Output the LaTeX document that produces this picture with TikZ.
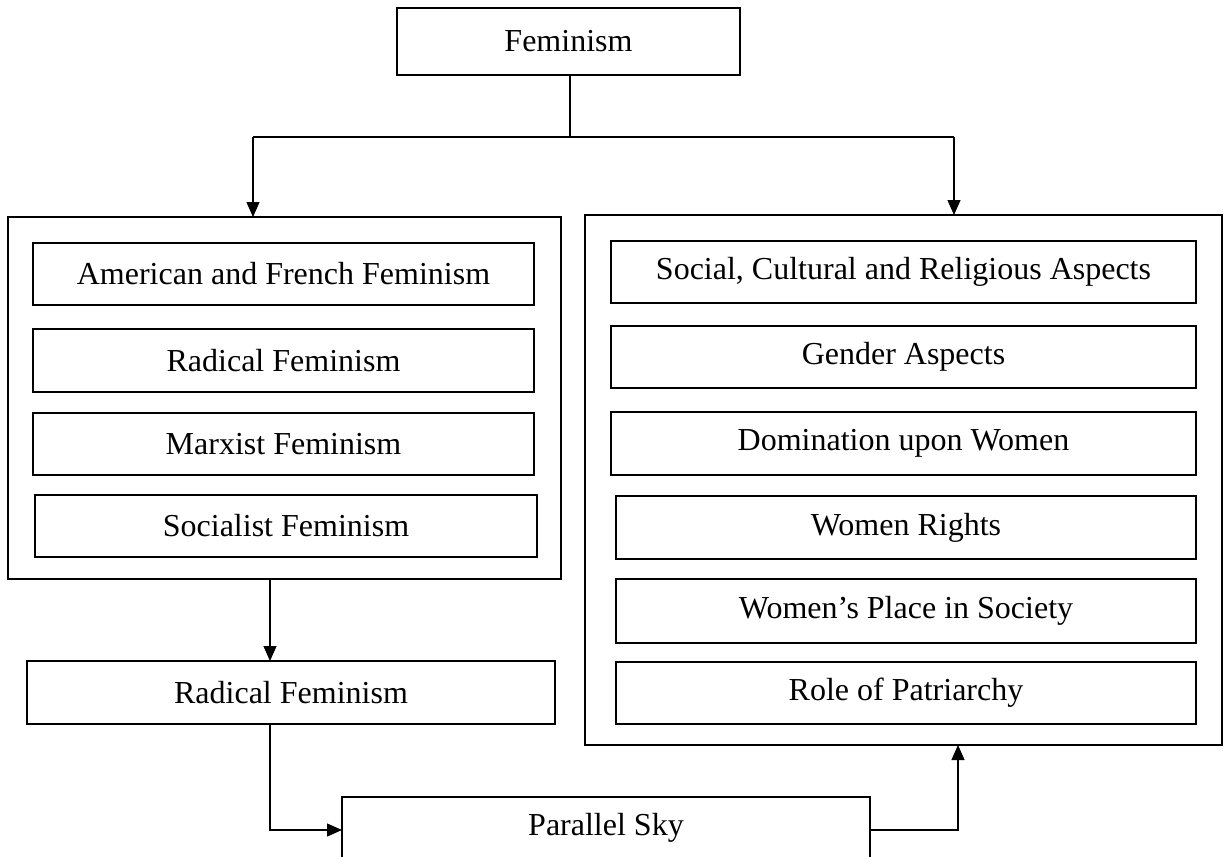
\documentclass[tikz,border=0pt]{standalone}
\usepackage{fontspec}
\setmainfont{Liberation Serif}
\usetikzlibrary{arrows.meta}
\begin{document}
\begin{tikzpicture}[x=1pt,y=-1pt,
  box/.style={draw,line width=2.2pt,inner sep=0pt,outer sep=0pt,font=\fontsize{32}{38}\selectfont},
  frame/.style={draw,line width=1.2pt,inner sep=0pt,outer sep=0pt},
  conn/.style={line width=1.2pt},
  arr/.style={line width=1.2pt,-{Triangle[length=15pt,width=13pt]}}]
\useasboundingbox (0,0) rectangle (1227,857);
% top
\node[box,minimum width=343pt,minimum height=67pt] (fem) at (568.5,41.5) {Feminism};
% outer frames
\node[frame,minimum width=553pt,minimum height=362pt] (lout) at (284.5,398) {};
\node[frame,minimum width=637pt,minimum height=530pt] (rout) at (903.5,480) {};
% left inner
\node[box,minimum width=501pt,minimum height=62pt] (amer) at (283.5,274) {American and French Feminism};
\node[box,minimum width=501pt,minimum height=63pt] (rad1) at (283.5,360.5) {Radical Feminism};
\node[box,minimum width=501pt,minimum height=62pt] (marx) at (283.5,444) {Marxist Feminism};
\node[box,minimum width=502pt,minimum height=62pt] (soc) at (286,526) {Socialist Feminism};
% right inner
\node[box,minimum width=585pt,minimum height=62pt] (scr) at (903.5,272) {Social, Cultural and Religious Aspects};
\node[box,minimum width=585pt,minimum height=62pt] (gen) at (903.5,357) {Gender Aspects};
\node[box,minimum width=585pt,minimum height=63pt] (dom) at (903.5,443.5) {Domination upon Women};
\node[box,minimum width=580pt,minimum height=63pt] (rig) at (906,527.5) {Women Rights};
\node[box,minimum width=580pt,minimum height=64pt] (pla) at (906,611) {Women’s Place in Society};
\node[box,minimum width=580pt,minimum height=62pt] (rol) at (906,693) {Role of Patriarchy};
% bottom
\node[box,minimum width=528pt,minimum height=63pt] (rad2) at (291,692.5) {Radical Feminism};
\node[box,minimum width=528pt,minimum height=62pt] (par) at (606,828) {Parallel Sky};
% junctions
\coordinate (jm) at (570,137);
\coordinate (jl) at (253,137);
\coordinate (jr) at (954,137);
\coordinate (xa) at (270,0);
\coordinate (xb) at (958,0);
\coordinate (yc) at (0,830);
% connectors
\draw[conn] (fem.south -| jm) -- (jm);
\draw[conn] (jl) -- (jr);
\draw[arr] (jl) -- (jl |- lout.north);
\draw[arr] (jr) -- (jr |- rout.north);
\draw[arr] (lout.south -| xa) -- (rad2.north -| xa);
\draw[arr] (rad2.south -| xa) |- (par.west |- yc);
\draw[arr] (par.east |- yc) -| (rout.south -| xb);
\end{tikzpicture}
\end{document}
